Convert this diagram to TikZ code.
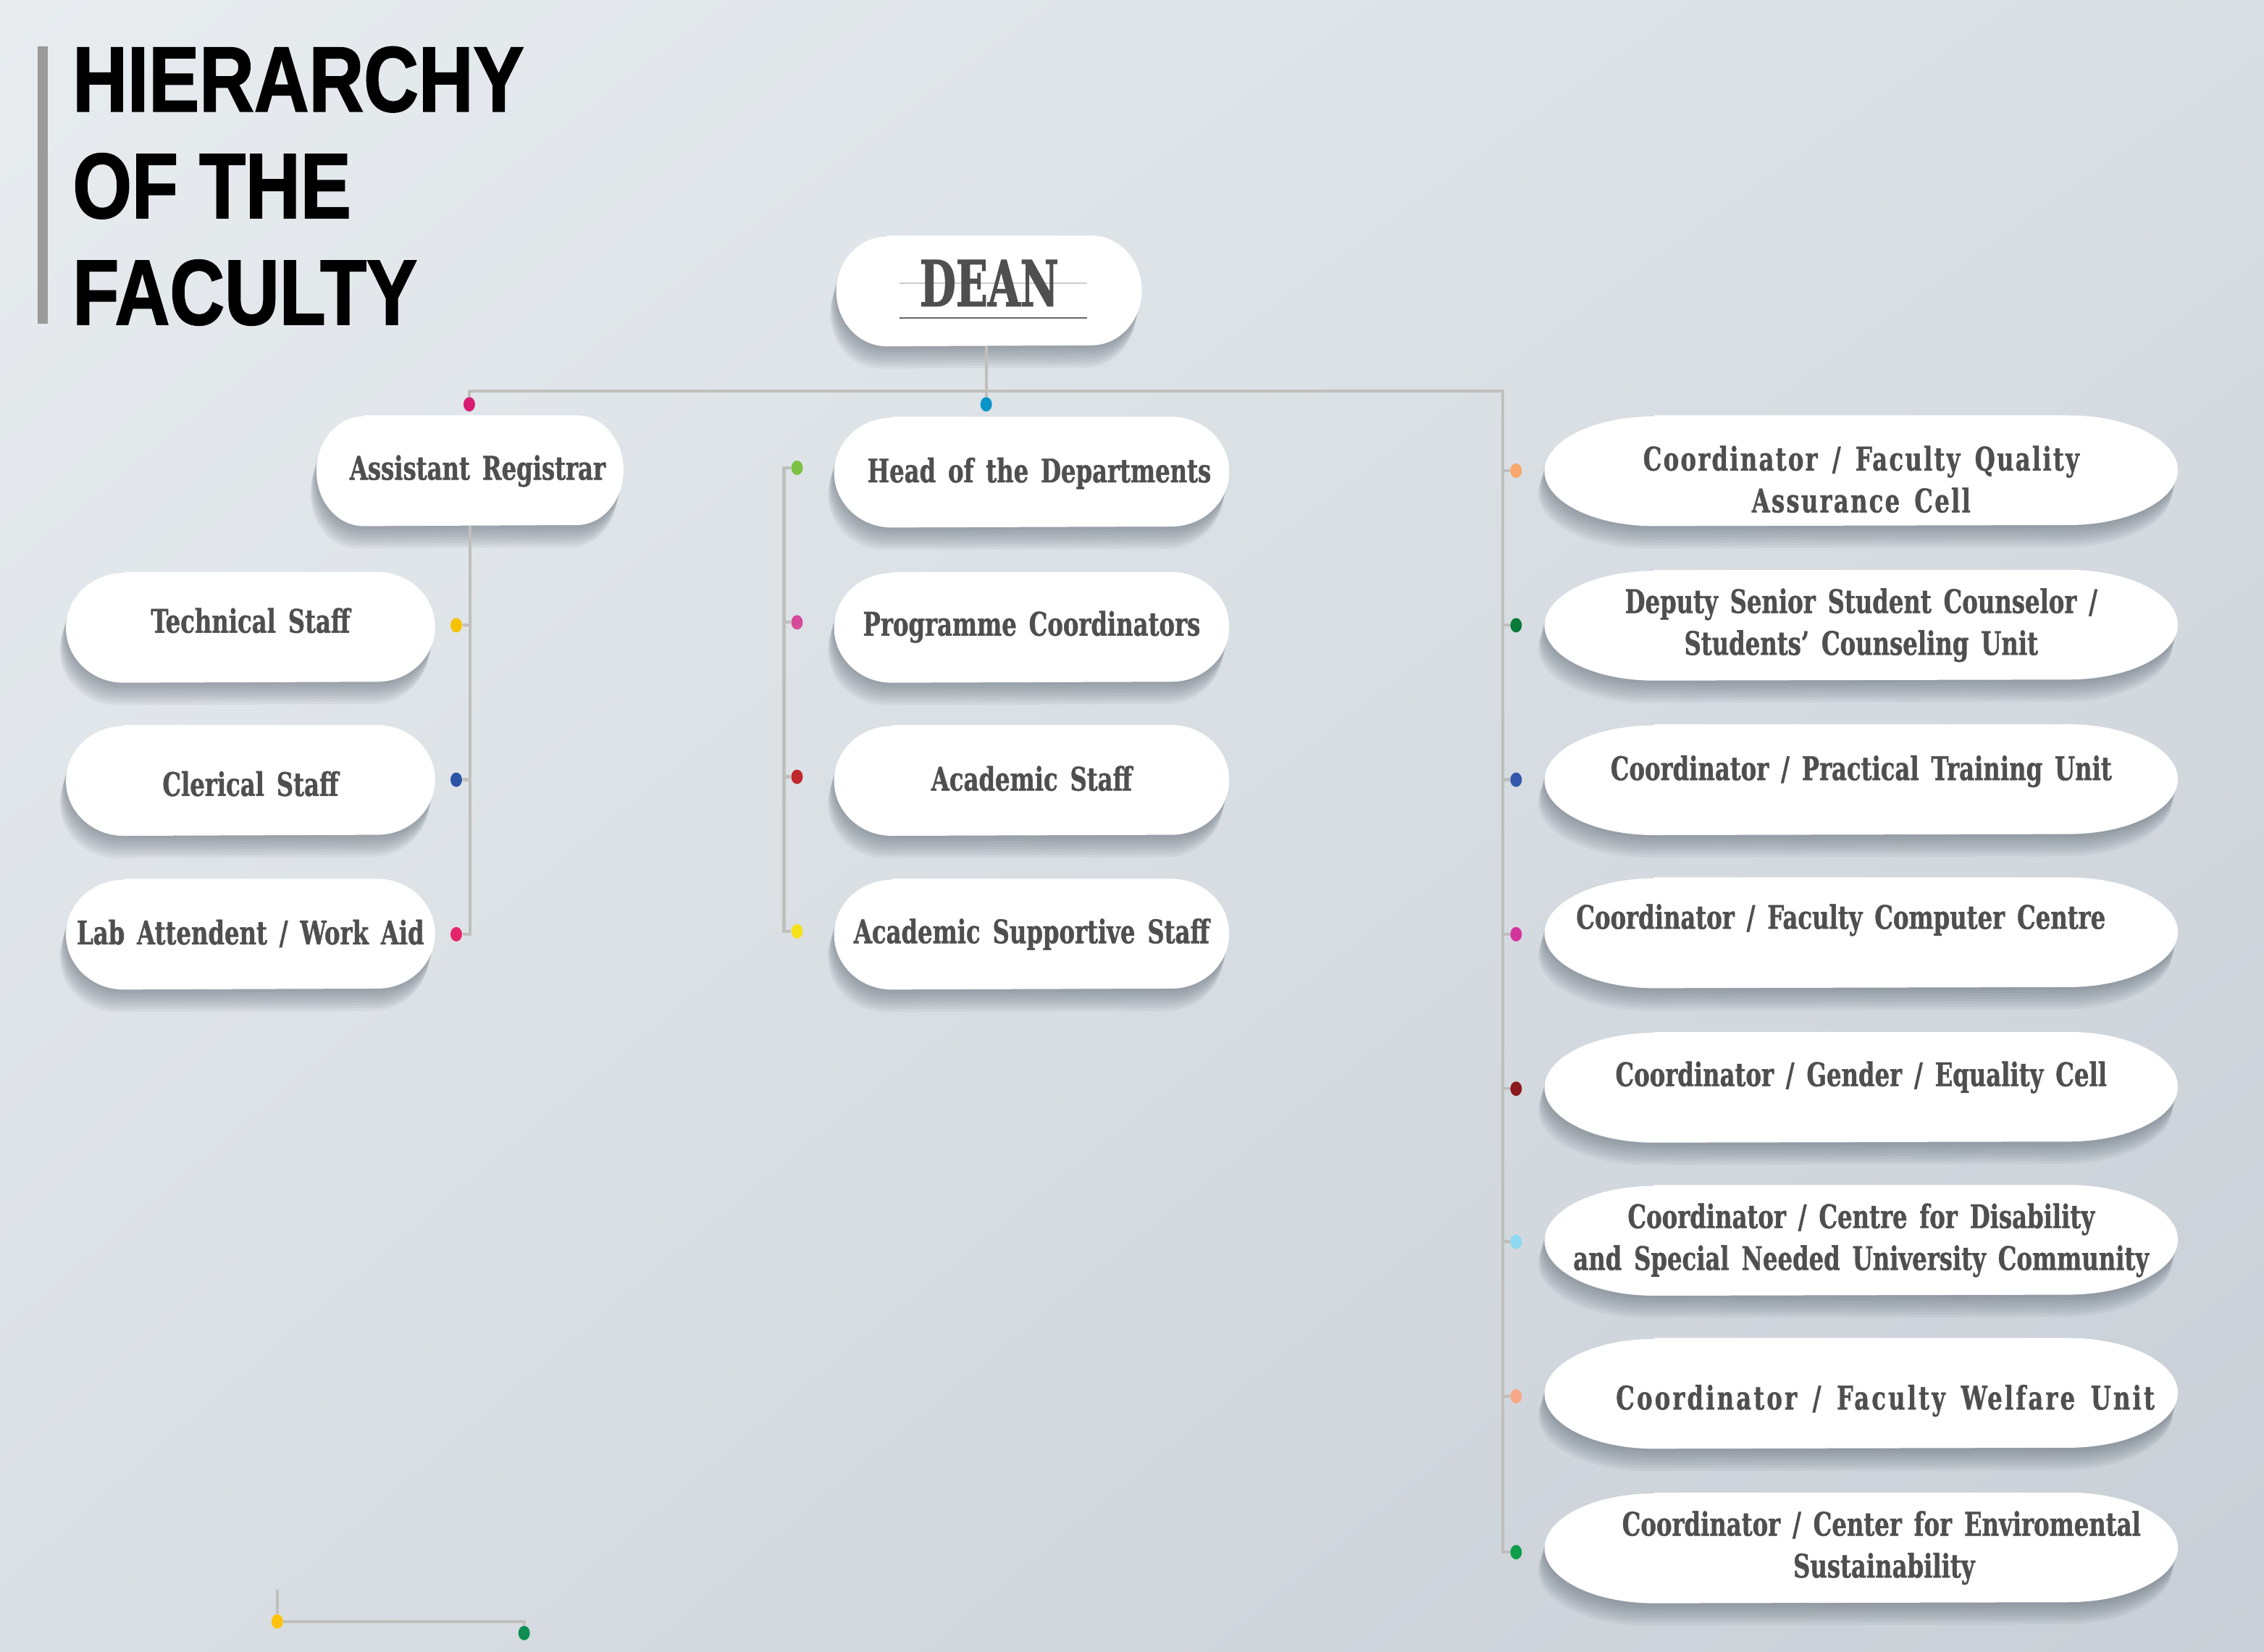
\documentclass[tikz,border=0pt]{standalone}
\usepackage{fontspec}
\usetikzlibrary{positioning, % For node-relative placements
                shapes.geometric, % For the ellipse dots
                shadings,
                calc}
\newfontfamily\headfont[FakeStretch=0.82, FakeBold=1.4]{Liberation Sans}
\newfontfamily\slabfont[FakeStretch=0.72, FakeBold=0.9, WordSpace=1.5]{DejaVu Serif}
\newfontfamily\deanfont[FakeStretch=0.66, FakeBold=1.2]{DejaVu Serif}

\definecolor{paperA}{HTML}{E8ECEF}
\definecolor{paperB}{HTML}{D8DEE3}
\definecolor{paperC}{HTML}{DADFE4}
\definecolor{paperD}{HTML}{C8CFD6}
\definecolor{bargray}{HTML}{9A9A9A}
\definecolor{ink}{HTML}{4F4F4F}
\definecolor{linkgray}{HTML}{C0BFBB}
\definecolor{shadowgray}{HTML}{5A6470}
\definecolor{cMagenta}{HTML}{D81B72}
\definecolor{cSky}{HTML}{0A95C9}
\definecolor{cYellow}{HTML}{F5C100}
\definecolor{cBlue}{HTML}{2C54A5}
\definecolor{cRose}{HTML}{E6246A}
\definecolor{cLime}{HTML}{7BC142}
\definecolor{cPink}{HTML}{D64A9B}
\definecolor{cRed}{HTML}{C0282D}
\definecolor{cLemon}{HTML}{F7E11A}
\definecolor{cOrange}{HTML}{F7A86A}
\definecolor{cForest}{HTML}{0A7A3A}
\definecolor{cRoyal}{HTML}{3358AC}
\definecolor{cOrchid}{HTML}{D3359B}
\definecolor{cWine}{HTML}{8B1A1E}
\definecolor{cIce}{HTML}{8ED8F2}
\definecolor{cSalmon}{HTML}{F7A889}
\definecolor{cGreen}{HTML}{0E9E4A}
\definecolor{cGold}{HTML}{FFC20E}
\definecolor{cJade}{HTML}{0E8F52}

\pgfdeclarelayer{paper}
\pgfdeclarelayer{card}
\pgfsetlayers{paper,card,main}

% pill outline of a box node, #2 = radius of the round ends
\newcommand\pillpath[2]{($(#1.north west)+(#2,0pt)$) -- ($(#1.north east)+(-#2,0pt)$)
  arc[start angle=90, end angle=-90, x radius=#2, y radius=0.76cm]
  -- ($(#1.south west)+(#2,0pt)$)
  arc[start angle=270, end angle=90, x radius=#2, y radius=0.76cm] -- cycle}

\tikzset{
  card/.style={minimum height=1.52cm, inner sep=0pt, align=center, text=ink,
               font=\slabfont\bfseries\fontsize{12.8}{16.5}\selectfont,
               text height=10pt, text depth=2pt},
  airy/.style={font=\slabfont\bfseries\fontsize{12.8}{16.5}\selectfont\addfontfeature{LetterSpace=#1}},
  lift/.style={text depth=#1},
  sink/.style={text height=#1, text depth=0pt},
  twoline/.style={text height={}, text depth={}},
  lcard/.style={card, minimum width=5.1cm},
  mcard/.style={card, minimum width=5.46cm},
  rcard/.style={card, minimum width=8.76cm},
  dot/.style={ellipse, fill=#1, inner sep=0pt, minimum width=0.16cm, minimum height=0.2cm},
  link/.style={draw=linkgray, line width=1.2pt},
  headline/.style={font=\headfont\bfseries\fontsize{36.5}{42}\selectfont, align=left, inner sep=0pt},
}

\begin{document}
\begin{tikzpicture}[x=0.02cm, y=0.02cm]
  \useasboundingbox (0,0) rectangle (1568,-1144);
  \begin{pgfonlayer}{paper}
    \shade[upper left=paperA, upper right=paperB, lower left=paperC, lower right=paperD]
      (0,0) rectangle (1568,-1144);
  \end{pgfonlayer}

  % title
  \fill[bargray] (26,-32) rectangle (33,-224);
  \node[headline, anchor=north west] (heading) at (50,-32) {HIERARCHY\\OF THE\\FACULTY};

  % boxes
  \node[card, minimum width=4.22cm, font=\deanfont\bfseries\fontsize{25}{30}\selectfont,
        text height=18pt, text depth=6pt] (dean) at (685,-201.5) {DEAN};
  \node[card, minimum width=4.24cm, lift=2.9pt] (asreg) at (325.5,-326) {\hspace*{6pt}Assistant Registrar};

  \node[lcard, lift=5.8pt] (tech) at (173.5,-434.5) {Technical Staff};
  \node[lcard, sink=12.2pt] (cler) at (173.5,-540.5) {Clerical Staff};
  \node[lcard] (lab) at (173.5,-647) {Lab Attendent / Work Aid};

  \node[mcard] (hod) at (714.5,-327) {\hspace*{6pt}Head of the Departments};
  \node[mcard, lift=3.5pt] (prog) at (714.5,-434.5) {Programme Coordinators};
  \node[mcard] (acad) at (714.5,-540.5) {Academic Staff};
  \node[mcard, lift=2.9pt] (asup) at (714.5,-647) {Academic Supportive Staff};

  \node[rcard, twoline, airy=5] (qac) at (1289,-326) {\rule{0pt}{16.5pt}Coordinator / Faculty Quality\\Assurance Cell};
  \node[rcard, twoline] (ssc) at (1289,-433) {Deputy Senior Student Counselor /\\Students’ Counseling Unit};
  \node[rcard, lift=9.7pt] (ptu) at (1289,-540) {Coordinator / Practical Training Unit};
  \node[rcard, lift=13.1pt] (fcc) at (1289,-646) {Coordinator / Faculty Computer Centre\hspace*{16pt}};
  \node[rcard, lift=10.9pt] (gec) at (1289,-753) {Coordinator / Gender / Equality Cell};
  \node[rcard, twoline] (cdc) at (1289,-859) {Coordinator / Centre for Disability\\and Special Needed University Community};
  \node[rcard, sink=12.7pt, airy=7] (fwu) at (1289,-965) {\hspace*{19pt}Coordinator / Faculty Welfare Unit};
  \node[rcard, twoline] (ces) at (1289,-1072) {\hspace*{16pt}Coordinator / Center for Enviromental\\\hspace*{18pt}Sustainability};

  % white pills with soft shadows
  \begin{pgfonlayer}{card}
    \foreach \n/\r in {dean/0.7cm, asreg/0.65cm, tech/0.8cm, cler/0.8cm, lab/0.8cm,
                       hod/0.8cm, prog/0.8cm, acad/0.8cm, asup/0.8cm,
                       qac/1.52cm, ssc/1.52cm, ptu/1.52cm, fcc/1.52cm,
                       gec/1.52cm, cdc/1.52cm, fwu/1.52cm, ces/1.52cm}
    {
      \foreach \k in {1,...,8}
        \fill[shadowgray, opacity=0.08,
              transform canvas={xshift=-0.3pt*\k, yshift=-1.1pt*\k}] \pillpath{\n}{\r};
    }
    \foreach \n/\r in {dean/0.7cm, asreg/0.65cm, tech/0.8cm, cler/0.8cm, lab/0.8cm,
                       hod/0.8cm, prog/0.8cm, acad/0.8cm, asup/0.8cm,
                       qac/1.52cm, ssc/1.52cm, ptu/1.52cm, fcc/1.52cm,
                       gec/1.52cm, cdc/1.52cm, fwu/1.52cm, ces/1.52cm}
      \fill[white] \pillpath{\n}{\r};
    \draw[linkgray!80, line width=0.5pt] (623,-196) -- (753,-196);
    \draw[ink!85, line width=0.6pt] (623,-220) -- (753,-220);
  \end{pgfonlayer}

  % dots
  \node[dot=cMagenta] (t-left) at (325,-280) {};
  \node[dot=cSky] (t-mid) at (683,-280) {};
  \node[dot=cYellow] (p-tech) at (316,-433) {};
  \node[dot=cBlue] (p-cler) at (316,-540) {};
  \node[dot=cRose] (p-lab) at (316,-647) {};
  \node[dot=cLime] (p-hod) at (552,-324) {};
  \node[dot=cPink] (p-prog) at (552,-431) {};
  \node[dot=cRed] (p-acad) at (552,-538) {};
  \node[dot=cLemon] (p-asup) at (552,-645) {};
  \node[dot=cOrange] (p-qac) at (1050,-326) {};
  \node[dot=cForest] (p-ssc) at (1050,-433) {};
  \node[dot=cRoyal] (p-ptu) at (1050,-540) {};
  \node[dot=cOrchid] (p-fcc) at (1050,-647) {};
  \node[dot=cWine] (p-gec) at (1050,-754) {};
  \node[dot=cIce] (p-cdc) at (1050,-860) {};
  \node[dot=cSalmon] (p-fwu) at (1050,-967) {};
  \node[dot=cGreen] (p-ces) at (1050,-1075) {};
  \node[dot=cGold] (p-stub) at (192,-1123) {};
  \node[dot=cJade] (p-end) at (363,-1131) {};

  % connectors
  \coordinate (bus-l) at (325,-271);
  \coordinate (bus-m) at (683,-271);
  \coordinate (bus-r) at (1041,-271);
  \coordinate (mid-t) at (543,-324);
  \coordinate (stub) at (192,-1101);
  \draw[link] (t-left) -- (bus-l) -- (bus-r) -- (bus-r |- p-ces) -- (p-ces);
  \draw[link] (dean.south -| bus-m) -- (t-mid);
  \foreach \n in {qac,ssc,ptu,fcc,gec,cdc,fwu}
    \draw[link] (bus-r |- p-\n) -- (p-\n);
  \draw[link] (asreg) -- (asreg |- p-lab) -- (p-lab);
  \foreach \n in {tech,cler}
    \draw[link] (asreg |- p-\n) -- (p-\n);
  \draw[link] (p-hod) -- (mid-t) -- (mid-t |- p-asup) -- (p-asup);
  \foreach \n in {prog,acad}
    \draw[link] (mid-t |- p-\n) -- (p-\n);
  \draw[link] (stub) -- (p-stub) (p-stub) -- (p-stub -| p-end) -- (p-end);
\end{tikzpicture}
\end{document}
